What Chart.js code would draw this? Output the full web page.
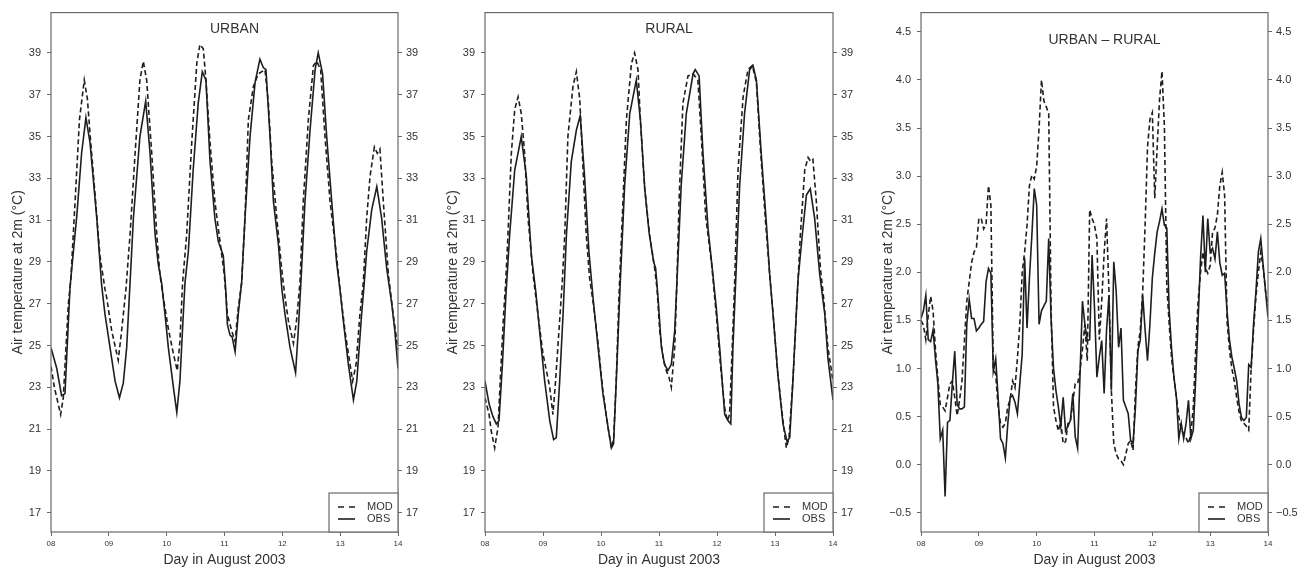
<!DOCTYPE html>
<html>
<head>
<meta charset="utf-8">
<script src="https://cdn.jsdelivr.net/npm/chart.js@4.4.1/dist/chart.umd.min.js"></script>
<style>
  html, body { margin: 0; padding: 0; background: #fff; }
  #wrap { position: relative; width: 1304px; height: 571px; }
  canvas { position: absolute; top: 0; }
</style>
</head>
<body>
<div id="wrap">
  <canvas id="urbanChart" width="435" height="571" style="left:0"></canvas>
  <canvas id="ruralChart" width="435" height="571" style="left:435px"></canvas>
  <canvas id="diffChart" width="434" height="571" style="left:870px"></canvas>
</div>
<script>
// labels
const dayLabels = ['08', '09', '10', '11', '12', '13', '14'];
const seriesNames = ['MOD', 'OBS'];
const panelTitles = ['URBAN', 'RURAL', 'URBAN \u2013 RURAL'];
const yTitle = 'Air temperature at 2m (\u00b0C)';
const xTitle = 'Day in August 2003';
const tempTicks = [17, 19, 21, 23, 25, 27, 29, 31, 33, 35, 37, 39];
const diffTicks = [-0.5, 0, 0.5, 1, 1.5, 2, 2.5, 3, 3.5, 4, 4.5];
const diffTickLabels = ['\u22120.5', '0.0', '0.5', '1.0', '1.5', '2.0', '2.5', '3.0', '3.5', '4.0', '4.5'];

// [hour since 08 Aug 00h, temperature]
const urbanMod = [[0,24.0],[1.4,23.0],[3,22.2],[4,21.7],[5.1,22.5],[6.2,24.9],[7.2,27],[8.2,28.1],[10,31.9],[11.8,35.8],[13.8,37.7],[15.1,36.8],[16.5,34.7],[18.3,32.2],[20.3,29.3],[22.4,27.7],[23.1,27.3],[25.2,25.7],[27.9,24.3],[29.3,25.7],[31.1,27.7],[32.8,30.3],[34.9,34.2],[36.9,37.7],[38.3,38.6],[39.7,37.7],[41.8,34.2],[43.9,30.3],[45.2,28.4],[46.6,27.3],[48.7,25.8],[50.8,24.6],[52.4,23.8],[53.5,25.2],[54.6,28],[56.3,30.3],[58.4,34.7],[60.5,38.5],[61.8,39.4],[63.2,39.2],[64.3,37.7],[66,34.7],[68,31.9],[70.1,30],[71.9,28.4],[73.2,26.5],[75,25.7],[76.4,25.2],[77.7,26.8],[79.1,28],[80.5,31.1],[81.9,35.8],[84,37.4],[86,38],[88.8,38.2],[90.2,36.6],[91.6,33.8],[93.7,31.1],[95.7,28.7],[97.1,27.3],[98.5,26.2],[100.6,25.1],[101.9,26.2],[103.3,28],[104.7,31.9],[106.8,35.8],[108.9,38.4],[110.3,38.6],[111.9,38.2],[113.7,35],[115.8,31.9],[118.5,29.3],[119.9,27.7],[122,25.7],[124.1,24.1],[125.2,23.3],[126.6,24.1],[128.2,26.5],[129.6,28],[131,31.1],[132.4,33.1],[134.2,34.5],[135.4,34.2],[136.5,34.4],[137.9,31.9],[140,28.4],[142,26.5],[144,24.8]];
const urbanObs = [[0,24.9],[2.4,23.9],[4.4,22.6],[5.8,22.7],[7.9,27.8],[10.7,31.2],[12.7,34.2],[14.5,35.9],[16.2,34.7],[19,31.1],[21,27.9],[22.4,26.5],[24.5,24.9],[26.6,23.3],[28.4,22.5],[30,23.2],[31.4,24.9],[32.8,28],[34.2,31.1],[36.9,35],[39.3,36.7],[41.1,34.2],[43.2,30.3],[44.5,28.9],[45.9,28],[47.3,26.5],[48.7,24.9],[50.8,23],[52.2,21.8],[53.5,23.3],[54.9,26.5],[55.6,28],[57,29.5],[59,33.4],[61.1,36.6],[62.8,38.1],[64.3,37.7],[66,33.8],[68,31.1],[69.4,30],[71.5,29.3],[72.5,27.7],[73.2,26],[74.3,25.5],[75.2,25.4],[76.4,24.7],[77.7,26.5],[79.1,28],[80.5,31.1],[82.6,35],[84.7,37.6],[86.7,38.7],[88.1,38.3],[89.2,38.2],[90.9,35],[92.3,31.9],[94.4,29.8],[95.8,27.7],[97.1,26.5],[99.2,24.9],[101.5,23.7],[102.6,25.7],[103.7,28],[105.4,31.9],[107.5,35.3],[109.6,38.2],[110.9,39],[112.7,38],[114.4,35],[116.5,31.9],[118.5,29],[119.9,27.7],[121.3,26.2],[123.4,24.1],[125.5,22.4],[126.9,23.3],[128.9,26.5],[130,28],[131,29.5],[133.1,31.5],[135.2,32.6],[137.2,31.1],[139.3,28.7],[141.4,27],[142.7,25.7],[144,23.9]];
const ruralMod = [[0,22.5],[1.7,21.7],[2.6,20.9],[4,20.1],[4.7,20.6],[5.4,21.1],[6.3,23.3],[7.7,26.5],[8.6,28.1],[9.5,30.3],[10.9,34.2],[12.3,36.3],[13.7,36.9],[15,36.1],[16.4,34.2],[17.8,31.1],[19.9,28.4],[21.9,26.5],[24,24.6],[26.8,23],[28.1,21.7],[29.2,23.3],[30.6,25.7],[32,28.1],[33,30.3],[34.3,35],[36.4,37.4],[37.8,38.1],[39.2,36.8],[40.6,33.4],[41.9,30.3],[43.3,28.2],[44.7,27.1],[46.8,25.1],[48.8,22.8],[50.9,21.1],[52.3,20.1],[53.2,20.5],[54.3,23.3],[55.4,27.3],[56.8,31.1],[58.5,35.8],[60.6,38.5],[61.9,39],[63.3,38.2],[64.3,35.8],[66.1,32.5],[68.1,30.3],[70.2,28.7],[71.2,27.7],[72.3,25.7],[73.7,24.4],[75,23.8],[76.1,23.5],[77.1,23],[78.5,24.9],[79.4,28],[80.3,31.9],[81.9,36.6],[84,37.9],[86.1,38],[88.1,37.7],[89.5,35],[91.3,31.2],[93.7,29],[95.7,26.5],[97.4,24.1],[99.2,22],[100.3,21.4],[101.2,21.7],[102.3,24.9],[103.3,28],[104.7,33.4],[106.8,36.9],[108.8,38.2],[110.6,38.4],[112.3,37.6],[114.1,34.2],[116.1,30.9],[117.8,28.4],[119.2,26.5],[121.2,23.6],[123.3,21.4],[124.7,20.1],[125.8,20.6],[127.4,23.3],[128.8,26.5],[130.5,30.3],[132.3,33.4],[133.7,34],[134.8,33.8],[135.7,33.9],[137.1,31.9],[138.8,28.7],[140.1,27.3],[141.9,24.9],[144,23.3]];
const ruralObs = [[0,23.3],[1.7,22.2],[3.3,21.6],[4.7,21.25],[5.8,21.4],[7.2,24.1],[8.6,27.3],[10.2,30.3],[12.3,33.4],[15,35],[17.1,33.1],[19.2,29.3],[21,27.6],[22.6,25.7],[24.7,23.3],[26.8,21.4],[28.4,20.5],[29.5,20.6],[30.9,23.3],[32.3,26.5],[33.7,30.3],[35.7,33.8],[37.8,35.3],[39.4,36],[41.2,33.1],[43,29.5],[44.7,27.3],[46.8,24.9],[48.8,22.7],[50.9,21.1],[52.3,20.1],[53.2,20.3],[54.6,24.1],[56,28.1],[57.8,32.7],[59.9,36.1],[62.6,37.7],[64.3,35.8],[66.1,32.5],[67.9,30.4],[69.8,29],[70.6,28.7],[71.6,27.3],[73,24.9],[74.3,24.1],[75.7,23.8],[77.1,24.1],[78.5,25.7],[79.4,28],[81.2,32.7],[83.3,36.1],[86.1,38],[87,38.2],[88.6,37.9],[90.2,34.2],[92.3,30.6],[94.3,28.4],[95.7,26.8],[97.1,24.9],[99.2,21.7],[100.6,21.4],[101.7,21.25],[102.6,24.9],[103.7,28],[105.4,32.7],[107.4,36.1],[109.5,38.2],[110.9,38.4],[112.3,37.7],[114.3,34.2],[116.4,30.9],[117.8,28.4],[119.2,26.5],[121.2,23.6],[123.3,21.25],[125,20.4],[126.1,20.6],[127.4,23.3],[129.5,28.1],[131.3,30.3],[133,32.2],[134.6,32.5],[136.4,31.1],[138.5,28.4],[140.6,26.5],[141.9,24.4],[144,22.4]];

// urban minus rural, hourly from 08 Aug 00h to 14 Aug 00h
const diffMod = [
  1.5,1.45,1.3,1.55,1.75,1.6,1.2,0.9,0.62,0.6,0.56,0.7,0.84,0.87,0.7,0.51,0.67,0.87,1.28,1.7,1.9,2.1,2.21,2.26,
  2.56,2.56,2.45,2.5,2.9,2.7,1.0,0.94,0.6,0.43,0.39,0.43,0.6,0.68,0.87,0.8,1.1,1.46,2.0,2.21,2.49,2.9,3.01,2.97,
  3.1,3.5,4.0,3.78,3.72,3.65,1.6,0.6,0.46,0.35,0.45,0.22,0.24,0.43,0.45,0.65,0.84,0.84,0.98,1.2,1.46,1.08,2.65,2.56,
  2.49,2.35,1.3,1.7,2.2,2.56,1.8,0.77,0.22,0.11,0.06,0.04,0.0,0.11,0.22,0.25,0.15,0.77,1.22,1.4,1.8,2.49,3.3,3.59,
  3.66,2.77,3.3,3.8,4.09,3.52,1.87,1.46,1.1,0.9,0.7,0.5,0.36,0.32,0.28,0.22,0.32,0.6,1.2,1.7,2.0,2.21,2.05,1.99,
  2.07,2.42,2.46,2.6,2.9,3.04,2.8,1.49,1.2,1.0,0.87,0.7,0.55,0.45,0.43,0.4,0.36,1.0,1.4,1.75,2.0,2.21,2.05,1.8,1.65
];
const diffObs = [
  1.52,1.6,1.76,1.3,1.28,1.4,1.1,0.84,0.27,0.36,-0.33,0.44,0.46,0.84,1.18,0.63,0.58,0.58,0.6,1.46,1.72,1.52,1.52,1.39,
  1.42,1.46,1.49,1.9,2.04,1.99,0.97,1.1,0.7,0.27,0.22,0.07,0.42,0.7,0.72,0.65,0.53,0.84,1.15,2.15,1.42,1.94,2.38,2.87,
  2.7,1.46,1.6,1.65,1.7,2.35,1.5,1.0,0.77,0.6,0.4,0.7,0.35,0.4,0.46,0.74,0.29,0.17,0.94,1.7,1.46,1.29,1.3,2.18,
  1.63,0.91,1.12,1.29,0.74,1.4,1.76,0.77,2.11,1.8,1.22,1.42,0.67,0.6,0.53,0.25,0.22,0.6,1.18,1.3,1.76,1.4,1.08,1.46,
  1.94,2.2,2.42,2.53,2.66,2.49,2.46,1.6,1.2,0.9,0.7,0.27,0.43,0.27,0.43,0.67,0.27,0.36,0.9,1.5,2.14,2.59,2.0,2.56,
  2.21,2.25,2.14,2.42,2.1,1.97,1.99,1.6,1.3,1.12,1.0,0.87,0.63,0.49,0.46,0.49,1.04,1.01,1.46,1.8,2.21,2.35,2.07,1.8,1.53
];

Chart.defaults.font.family = '"Liberation Sans", Arial, Helvetica, sans-serif';
Chart.defaults.color = '#333';

const LINE = '#1e1e1e';
const FRAME = '#6a6a6a';

// frame, panel title and the little legend box in the lower right corner
const panelDecor = {
  id: 'panelDecor',
  afterDraw(chart, args, opts) {
    const { ctx, chartArea: a } = chart;
    ctx.save();
    ctx.strokeStyle = FRAME;
    ctx.lineWidth = 1.2;
    ctx.strokeRect(a.left, a.top, a.right - a.left, a.bottom - a.top);

    ctx.fillStyle = '#333';
    ctx.font = '14px "Liberation Sans", Arial, sans-serif';
    ctx.textAlign = 'center';
    ctx.textBaseline = 'middle';
    ctx.fillText(opts.title, (a.left + a.right) / 2 + 10, opts.titleY);

    const bw = 69, bh = 39;
    const bx = a.right - bw, by = a.bottom - bh;
    ctx.fillStyle = '#fff';
    ctx.fillRect(bx, by, bw, bh);
    ctx.strokeRect(bx, by, bw, bh);

    ctx.strokeStyle = LINE;
    ctx.lineWidth = 1.6;
    [14, 26].forEach((dy, i) => {
      ctx.setLineDash(i === 0 ? [6, 5] : []);
      ctx.beginPath();
      ctx.moveTo(bx + 9, by + dy);
      ctx.lineTo(bx + 26, by + dy);
      ctx.stroke();
    });
    ctx.setLineDash([]);
    ctx.fillStyle = '#333';
    ctx.font = '11px "Liberation Sans", Arial, sans-serif';
    ctx.textAlign = 'left';
    ctx.fillText(seriesNames[0], bx + 38, by + 14);
    ctx.fillText(seriesNames[1], bx + 38, by + 26);
    ctx.restore();
  }
};

function yAxis(position, min, max, ticks, labels, width, withTitle) {
  return {
    position: position,
    min: min,
    max: max,
    afterBuildTicks: s => { s.ticks = ticks.map(v => ({ value: v })); },
    afterFit: s => { s.width = width; },
    ticks: {
      callback: (v, i) => labels[i],
      font: { size: 11 },
      padding: position === 'left' ? 6 : 4,
      autoSkip: false
    },
    grid: { drawOnChartArea: false, tickLength: 4, color: FRAME, lineWidth: 1 },
    border: { display: false },
    title: {
      display: withTitle,
      text: yTitle,
      font: { size: 14 },
      color: '#333',
      padding: { top: 10, bottom: 0 }
    }
  };
}

function makePanel(canvasId, title, titleY, mod, obs, yMin, yMax, ticks, labels, leftW, rightW) {
  const ctx = document.getElementById(canvasId);
  if (!ctx) {
    console.error('Canvas not found: ' + canvasId);
    return;
  }
  new Chart(ctx.getContext('2d'), {
    type: 'line',
    data: {
      datasets: [{
        label: seriesNames[0],
        data: mod.map(p => ({ x: p[0], y: p[1] })),
        borderColor: LINE,
        borderWidth: 1.6,
        borderDash: [5, 3],
        pointRadius: 0,
        tension: 0,
        fill: false
      }, {
        label: seriesNames[1],
        data: obs.map(p => ({ x: p[0], y: p[1] })),
        borderColor: LINE,
        borderWidth: 1.6,
        pointRadius: 0,
        tension: 0,
        fill: false
      }]
    },
    options: {
      responsive: false,
      animation: false,
      layout: { padding: { top: 9, left: 0, right: 0, bottom: 0 } },
      scales: {
        x: {
          type: 'linear',
          min: 0,
          max: 144,
          afterBuildTicks: s => { s.ticks = dayLabels.map((d, i) => ({ value: i * 24 })); },
          afterFit: s => { s.height = 39; },
          ticks: {
            callback: (v, i) => dayLabels[i],
            font: { size: 8 },
            padding: 3,
            maxRotation: 0,
            autoSkip: false
          },
          grid: { drawOnChartArea: false, tickLength: 4, color: FRAME, lineWidth: 1 },
          border: { display: false },
          title: {
            display: true,
            text: xTitle,
            font: { size: 14 },
            color: '#333',
            padding: { top: 0, bottom: 2 }
          }
        },
        y: yAxis('left', yMin, yMax, ticks, labels, leftW, true),
        y2: yAxis('right', yMin, yMax, ticks, labels, rightW, false)
      },
      plugins: {
        legend: { display: false },
        tooltip: { enabled: false },
        panelDecor: { title: title, titleY: titleY }
      }
    },
    plugins: [panelDecor]
  });
}

const tempLabels = tempTicks.map(String);
const diffHours = diffObs.map((v, i) => i);

makePanel('urbanChart', panelTitles[0], 29, urbanMod, urbanObs, 16.08, 40.93, tempTicks, tempLabels, 51, 37);
makePanel('ruralChart', panelTitles[1], 29, ruralMod, ruralObs, 16.08, 40.93, tempTicks, tempLabels, 50, 37);
makePanel('diffChart', panelTitles[2], 40,
  diffMod.map((v, i) => [diffHours[i], v]),
  diffObs.map((v, i) => [diffHours[i], v]),
  -0.7, 4.7, diffTicks, diffTickLabels, 51, 36);
</script>
</body>
</html>
